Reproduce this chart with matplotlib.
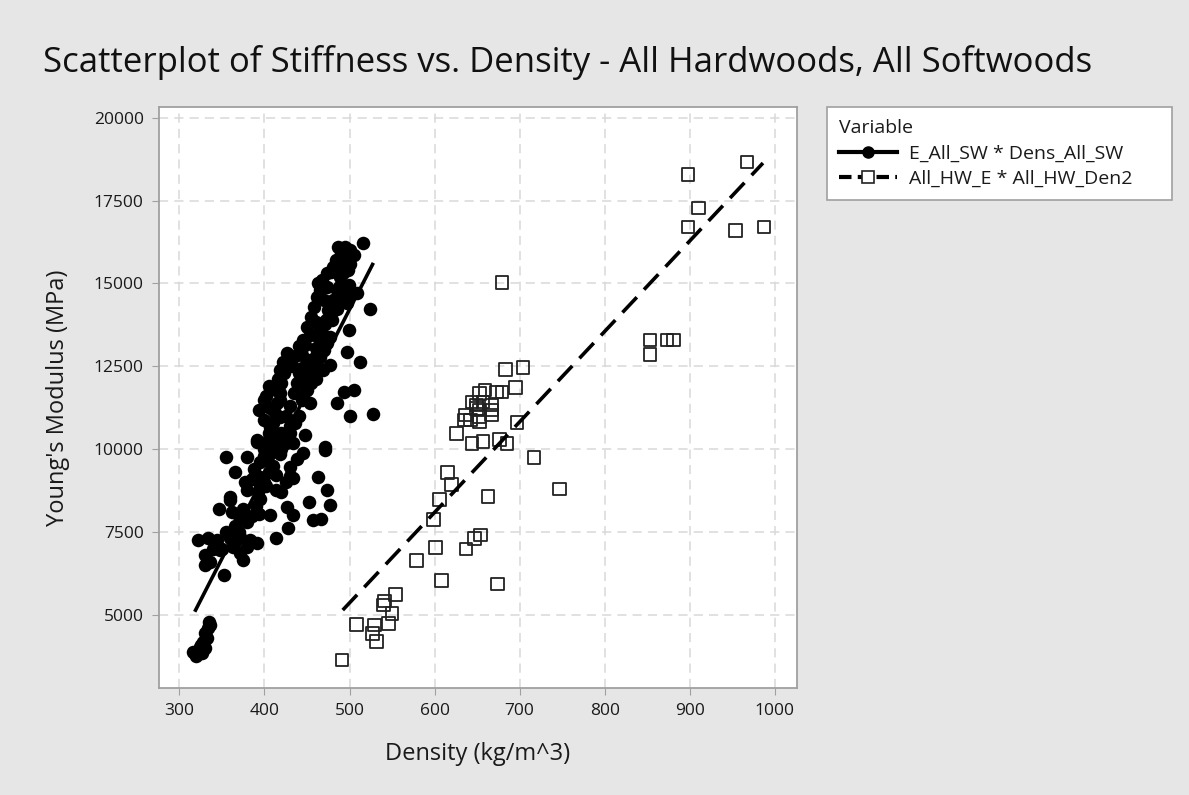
import numpy as np
import matplotlib.pyplot as plt
from matplotlib.lines import Line2D

# softwood density (kg/m^3) and stiffness (MPa)
sw_dens = [335, 330, 324, 316, 320, 322, 326, 328, 332, 330, 327, 334, 336, 325,
           352, 336, 330, 375, 371, 348, 363, 379, 322, 334, 344, 360, 371, 383, 391, 414,
           428, 346, 362, 393, 407, 426, 434, 457, 467, 452, 477, 360, 379, 395, 414, 377,
           365, 395, 414, 434, 463, 473, 355, 379, 403, 418, 430, 391, 414, 434, 471, 360,
           391, 414, 430, 448, 471, 436, 407, 399, 418, 393, 407, 399, 418, 444, 454, 414,
           485, 501, 527, 493, 505, 416, 444, 461, 418, 444, 457, 469, 477, 422, 426, 444,
           454, 465, 497, 512, 448, 461, 473, 454, 463, 477, 499, 460, 471, 479, 485, 524,
           497, 481, 465, 501,
           516, 486, 501, 493, 505, 489, 501, 473, 478, 463, 489, 473, 485, 499, 497, 509, 485,
           420, 425, 430, 435, 438, 440, 420, 425, 410, 405, 400, 395, 390, 385, 380, 370,
           365, 440, 450, 455, 460, 470, 465, 475, 470,
           405, 410, 412, 415, 418, 420, 423, 426, 405, 402,
           445, 448, 452, 455, 460, 465, 468, 472, 478, 482, 488, 492, 498, 480, 484, 490,
           495, 468, 462, 458, 455, 450, 445, 440, 436, 432,
           400, 405, 410, 415, 425, 430, 395, 400, 405, 388, 385, 392, 402, 420, 425, 430,
           438, 445, 375, 370, 365, 355, 350, 340, 330]
sw_stiff = [4800, 4460, 4050, 3890, 3750, 3900, 3850, 4200, 4300, 4000, 3950, 4600, 4700, 4100,
            6200, 6600, 6500, 6660, 6860, 6960, 7060, 7060, 7260, 7310, 7260, 7310, 7360, 7260, 7160, 7310,
            7610, 8190, 8110, 8060, 8010, 8260, 8010, 7860, 7910, 8410, 8310, 8570, 8770, 8870, 8770, 9020,
            9320, 9170, 9220, 9120, 9170, 8770, 9770, 9770, 9670, 9870, 9470, 10230, 10180, 10180, 9970, 8470,
            10280, 10370, 10480, 10430, 10060, 10780, 10680, 10880, 10980, 11180, 11230, 11480, 11480, 11480, 11380, 11780,
            11380, 11000, 11060, 11730, 11800, 12130, 12030, 12130, 12390, 12440, 12340, 12390, 12540, 12640, 12890, 12840,
            12690, 12790, 12940, 12640, 13140, 13040, 13190, 13440, 13390, 13390, 13590, 13840, 13790, 13890, 14240, 14220,
            14400, 14500, 14800, 14700,
            16220, 16100, 16000, 15800, 15850, 15600, 15600, 15300, 15350, 15000, 15200, 14900, 14800, 14950, 14600, 14700, 14550,
            10500, 11000, 11300, 11700, 12000, 12300, 10000, 10200, 9500, 9300, 9000, 8500, 8300, 8000, 7800, 7500,
            7200, 11000, 11800, 12000, 12500, 13000, 13600, 14200, 14500,
            10500, 10800, 11100, 11400, 11700, 12000, 12300, 12600, 11900, 11600,
            11600, 11900, 12200, 12500, 12800, 13100, 13500, 13900, 14100, 14400, 14900, 15300, 15400, 15500, 15700, 15900,
            16100, 15100, 14600, 14300, 14000, 13700, 13300, 13100, 12800, 12500,
            10000, 10300, 10000, 10300, 10400, 10700, 9600, 9800, 9900, 9400, 9100, 8700, 8900, 8700, 9000, 9200,
            9700, 9900, 8200, 8000, 7700, 7500, 7000, 7000, 6800]

# hardwood density and stiffness
hw_dens = [853, 853, 873, 881, 683, 704, 695, 659, 679, 673, 653, 644, 649, 657, 667, 667,
           667, 636, 653, 653, 653, 642, 635, 649, 626, 644, 657, 676, 685, 697, 717, 615,
           620, 747, 606, 663, 599, 654, 647, 601, 637, 579, 608, 674, 554, 541, 540, 550,
           546, 529, 527, 532, 508, 491, 898, 910, 898, 954, 967, 987, 679]
hw_stiff = [13290, 12860, 13290, 13290, 12410, 12460, 11860, 11780, 11730, 11730, 11680, 11430, 11330, 11430, 11330, 11180,
            11030, 11030, 11180, 10980, 10830, 10880, 10880, 11230, 10480, 10180, 10230, 10300, 10180, 10810, 9750, 9290,
            8940, 8800, 8490, 8570, 7880, 7410, 7310, 7040, 6990, 6640, 6050, 5930, 5620, 5420, 5300, 5050,
            4750, 4700, 4450, 4200, 4720, 3640, 18280, 17280, 16700, 16600, 18660, 16700, 15030]

# fitted lines (end points)
sw_fit_x = [318, 528]
sw_fit_y = [5100, 15620]
hw_fit_x = [492, 986]
hw_fit_y = [5150, 18630]

plt.rcParams['font.family'] = ['Open Sans', 'DejaVu Sans']

bg = '#e6e6e6'
fig = plt.figure(figsize=(11.89, 7.95), dpi=100, facecolor=bg)
ax = fig.add_axes([159 / 1189, 1 - 688 / 795, (797 - 159) / 1189, (688 - 107) / 795])

ax.scatter(sw_dens, sw_stiff, s=95, marker='o', color='black', linewidths=0, zorder=3)
ax.scatter(hw_dens, hw_stiff, s=82, marker='s', facecolors='none', edgecolors='#222222',
           linewidths=1.3, zorder=3)
ax.plot(sw_fit_x, sw_fit_y, color='black', lw=2.6, solid_capstyle='butt', zorder=4)
ax.plot(hw_fit_x, hw_fit_y, color='black', lw=2.6, dashes=(5.8, 2.9), zorder=4)

ax.set_xlim(276, 1026)
ax.set_ylim(2800, 20320)
ax.set_xticks(np.arange(300, 1001, 100))
ax.set_yticks(np.arange(5000, 20001, 2500))
ax.grid(True, color='#d9d9d9', linestyle=(0, (6, 4)), lw=1.1)
ax.set_axisbelow(True)
for sp in ax.spines.values():
    sp.set_color('#a0a0a0')
    sp.set_linewidth(1.3)
ax.tick_params(length=5, color='#a0a0a0', labelsize=12.5, pad=6, labelcolor='#1a1a1a')

ax.set_xlabel('Density (kg/m^3)', fontsize=17, labelpad=16, color='#1a1a1a')
ax.set_ylabel("Young's Modulus (MPa)", fontsize=17, labelpad=17, color='#1a1a1a')
fig.suptitle('Scatterplot of Stiffness vs. Density - All Hardwoods, All Softwoods',
             x=568 / 1189, y=1 - 62 / 795, va='center', fontsize=25, color='#111111')

handles = [
    Line2D([], [], color='black', lw=3, marker='o', markersize=8),
    Line2D([], [], color='black', lw=3, dashes=(3, 1.5), marker='s', markersize=8.5,
           markerfacecolor='white', markeredgecolor='#222222', markeredgewidth=1.2),
]
leg = fig.legend(handles, ['E_All_SW * Dens_All_SW', 'All_HW_E * All_HW_Den2'],
                 title='Variable', loc='upper left',
                 bbox_to_anchor=(827 / 1189, 1 - 205 / 795, (1172 - 827) / 1189, 98 / 795),
                 mode='expand', borderaxespad=0, fontsize=14, title_fontsize=14,
                 frameon=True, fancybox=False, edgecolor='#a0a0a0', framealpha=1,
                 handlelength=3.0, handletextpad=0.6, labelspacing=0.4, borderpad=0.6,
                 alignment='left')
leg.get_frame().set_linewidth(1.2)
leg.get_title().set_color('#1a1a1a')
for t in leg.get_texts():
    t.set_color('#1a1a1a')

fig.savefig('out.png', dpi=100, facecolor=bg)
